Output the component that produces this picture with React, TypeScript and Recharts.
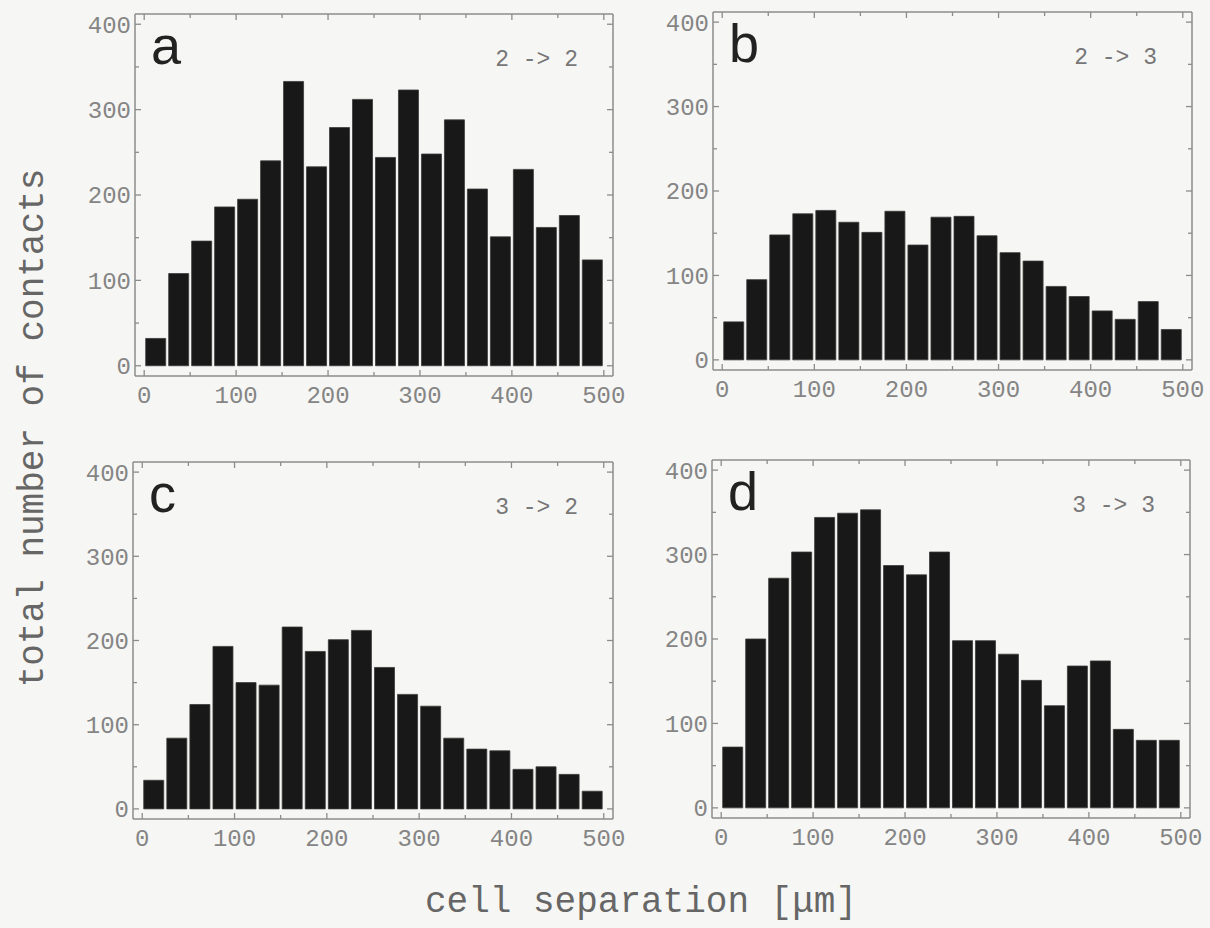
import { Bar, BarChart, XAxis, YAxis } from "recharts";

// histogram bins: 25 µm wide, values at bin centres
const binCenters = [
  12.5, 37.5, 62.5, 87.5, 112.5, 137.5, 162.5, 187.5, 212.5, 237.5,
  262.5, 287.5, 312.5, 337.5, 362.5, 387.5, 412.5, 437.5, 462.5, 487.5,
];

const countsA = [32, 108, 146, 186, 195, 240, 333, 233, 279, 312, 244, 323, 248, 288, 207, 151, 230, 162, 176, 124];
const countsB = [45, 95, 148, 173, 177, 163, 151, 176, 136, 169, 170, 147, 127, 117, 87, 75, 58, 48, 69, 36];
const countsC = [34, 84, 124, 193, 150, 147, 216, 187, 201, 212, 168, 136, 122, 84, 71, 69, 47, 50, 41, 21];
const countsD = [72, 200, 272, 303, 344, 349, 353, 287, 276, 303, 198, 198, 182, 151, 121, 168, 174, 93, 80, 80];

const xTicks = [0, 50, 100, 150, 200, 250, 300, 350, 400, 450, 500];
const yTicks = [0, 50, 100, 150, 200, 250, 300, 350, 400];

const panelLetters = ["a", "b", "c", "d"];
const transitions = ["2 -> 2", "2 -> 3", "3 -> 2", "3 -> 3"];

const yTitle = "total number of contacts";
const xTitle = "cell separation [\u03bcm]";

const FRAME = "#8c8c8c";
const LABEL = "#858585";
const MONO = "'Courier New', 'Liberation Mono', monospace";

// frame position of each panel on the page
const frames = [
  { left: 135, top: 14, w: 478, h: 362 },
  { left: 713, top: 12, w: 479, h: 358 },
  { left: 133, top: 462, w: 480, h: 357 },
  { left: 712, top: 460, w: 478, h: 358 },
];

const isMajor = (v: number) => v % 100 === 0;

function BottomTick({ x, y, payload }: any) {
  const major = isMajor(payload.value);
  return (
    <g>
      <line x1={x} x2={x} y1={y} y2={y - (major ? 6 : 4)} stroke={FRAME} strokeWidth={1.3} />
      {major && (
        <text x={x} y={y + 27} textAnchor="middle" fill={LABEL} fontFamily={MONO} fontSize={24}>
          {payload.value}
        </text>
      )}
    </g>
  );
}

function TopTick({ x, y, payload }: any) {
  const major = isMajor(payload.value);
  return <line x1={x} x2={x} y1={y} y2={y + (major ? 6 : 4)} stroke={FRAME} strokeWidth={1.3} />;
}

function LeftTick({ x, y, payload }: any) {
  const major = isMajor(payload.value);
  return (
    <g>
      <line x1={x} x2={x + (major ? 6 : 4)} y1={y} y2={y} stroke={FRAME} strokeWidth={1.3} />
      {major && (
        <text x={x - 4} y={y} dy="0.35em" textAnchor="end" fill={LABEL} fontFamily={MONO} fontSize={24}>
          {payload.value}
        </text>
      )}
    </g>
  );
}

function RightTick({ x, y, payload }: any) {
  const major = isMajor(payload.value);
  return <line x1={x} x2={x - (major ? 6 : 4)} y1={y} y2={y} stroke={FRAME} strokeWidth={1.3} />;
}

type PanelProps = {
  counts: number[];
  frame: { left: number; top: number; w: number; h: number };
};

function Panel({ counts, frame }: PanelProps) {
  const data = binCenters.map((x, i) => ({ x, count: counts[i] }));
  const padL = 60;
  const padR = 10;
  const padT = 10;
  const padB = 40;
  const extraR = 24; // room for the "500" label

  return (
    <div style={{ position: "absolute", left: frame.left - padL, top: frame.top - padT }}>
      <BarChart
        width={frame.w + padL + padR + extraR}
        height={frame.h + padT + padB}
        data={data}
        margin={{ top: 0, right: extraR, bottom: 0, left: 0 }}
        barCategoryGap={1.5}
      >
        <XAxis
          xAxisId="b"
          dataKey="x"
          type="number"
          domain={[-10, 510]}
          allowDataOverflow
          ticks={xTicks}
          interval={0}
          tickSize={0}
          tickMargin={0}
          tick={<BottomTick />}
          height={padB}
          stroke={FRAME}
          strokeWidth={1.5}
        />
        <XAxis
          xAxisId="t"
          dataKey="x"
          orientation="top"
          type="number"
          domain={[-10, 510]}
          allowDataOverflow
          ticks={xTicks}
          interval={0}
          tickSize={0}
          tickMargin={0}
          tick={<TopTick />}
          height={padT}
          stroke={FRAME}
          strokeWidth={1.5}
        />
        <YAxis
          yAxisId="l"
          type="number"
          domain={[-12, 412]}
          allowDataOverflow
          ticks={yTicks}
          interval={0}
          tickSize={0}
          tickMargin={0}
          tick={<LeftTick />}
          width={padL}
          stroke={FRAME}
          strokeWidth={1.5}
        />
        <YAxis
          yAxisId="r"
          orientation="right"
          type="number"
          domain={[-12, 412]}
          allowDataOverflow
          ticks={yTicks}
          interval={0}
          tickSize={0}
          tickMargin={0}
          tick={<RightTick />}
          width={padR}
          stroke={FRAME}
          strokeWidth={1.5}
        />
        <Bar
          xAxisId="b"
          yAxisId="l"
          dataKey="count"
          fill="#181818"
          stroke="#3a3a3a"
          strokeWidth={0.8}
          isAnimationActive={false}
        />
      </BarChart>
    </div>
  );
}

export default function App() {
  const allCounts = [countsA, countsB, countsC, countsD];

  return (
    <div
      style={{
        position: "absolute",
        left: 0,
        top: 0,
        width: 1210,
        height: 928,
        background: "#f6f6f4",
        overflow: "hidden",
      }}
    >
      {allCounts.map((counts, i) => (
        <Panel key={panelLetters[i]} counts={counts} frame={frames[i]} />
      ))}
      <svg
        width={1210}
        height={928}
        style={{ position: "absolute", left: 0, top: 0, pointerEvents: "none" }}
      >
        {frames.map((f, i) => (
          <g key={panelLetters[i]}>
            <text
              x={f.left + 16}
              y={f.top + 50}
              fontFamily="'Liberation Sans', Arial, sans-serif"
              fontSize={54}
              fill="#222"
            >
              {panelLetters[i]}
            </text>
            <text
              x={f.left + f.w - 35}
              y={f.top + 52}
              textAnchor="end"
              fontFamily={MONO}
              fontSize={23}
              fill="#777"
            >
              {transitions[i]}
            </text>
          </g>
        ))}
        <text
          x={0}
          y={0}
          transform="translate(43 428) rotate(-90)"
          textAnchor="middle"
          fontFamily={MONO}
          fontSize={36}
          fill="#666"
        >
          {yTitle}
        </text>
        <text x={641} y={912} textAnchor="middle" fontFamily={MONO} fontSize={36} fill="#666">
          {xTitle}
        </text>
      </svg>
    </div>
  );
}
